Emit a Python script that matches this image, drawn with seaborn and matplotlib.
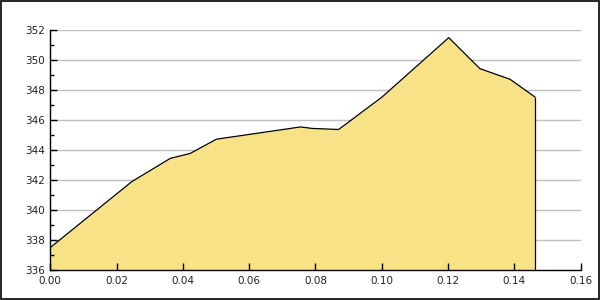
import matplotlib
matplotlib.use("Agg")
import matplotlib.pyplot as plt
import seaborn as sns
import pandas as pd
from matplotlib.ticker import MultipleLocator, FormatStrFormatter

x_vals = [0.0, 0.0246, 0.0362, 0.0422, 0.0501, 0.0755, 0.0790, 0.0870, 0.1001, 0.1202, 0.1296, 0.1387, 0.1462]
y_vals = [337.5, 341.9, 343.45, 343.78, 344.73, 345.55, 345.45, 345.38, 347.55, 351.51, 349.44, 348.73, 347.55]
y_base = 336

sns.set_style("white")
plt.rcParams['font.family'] = ['DejaVu Sans']

df = pd.DataFrame({"x": x_vals, "y": y_vals})

fig = plt.figure(figsize=(6, 3), dpi=100)
ax = fig.add_axes([0.0838, 0.1, 0.884, 0.799])

ax.fill_between(df["x"], y_base, df["y"], color="#F7E287", linewidth=0, zorder=2)
sns.lineplot(data=df, x="x", y="y", ax=ax, color="black", linewidth=0.9, zorder=3)
ax.vlines(x_vals[-1], y_base, y_vals[-1], color="black", linewidth=0.9, zorder=3)

ax.set_xlim(0, 0.16)
ax.set_ylim(336, 352)
ax.xaxis.set_major_locator(MultipleLocator(0.02))
ax.xaxis.set_major_formatter(FormatStrFormatter("%.2f"))
ax.yaxis.set_major_locator(MultipleLocator(2))
ax.yaxis.set_minor_locator(MultipleLocator(1))
ax.set_xlabel("")
ax.set_ylabel("")

# horizontal gridlines behind the fill, ticks in front of it
ax.grid(False)
for t in ax.get_yticks():
    if 336 < t <= 352:
        ax.axhline(t, color="#C0C0C0", linewidth=1, zorder=1)
ax.set_axisbelow(False)

for s in ["top", "right"]:
    ax.spines[s].set_visible(False)
for s in ["left", "bottom"]:
    ax.spines[s].set_color("black")
    ax.spines[s].set_linewidth(1)
    ax.spines[s].set_zorder(4)

ax.tick_params(axis="x", which="major", direction="in", length=5, width=1, bottom=True, top=False,
               color="black", labelsize=7.5, labelcolor="#222222", pad=4)
ax.tick_params(axis="y", which="major", direction="in", length=5, width=1, left=True, right=False,
               color="black", labelsize=7.5, labelcolor="#222222", pad=4)
ax.tick_params(axis="y", which="minor", direction="in", length=3, width=1, color="black", left=True, right=False)
ax.tick_params(axis="x", which="minor", bottom=False, top=False)

fig.patches.append(plt.Rectangle((0.001, 0.002), 0.997, 0.995, transform=fig.transFigure,
                                 fill=False, edgecolor="black", linewidth=1.2))

fig.savefig("out.png", dpi=100)
